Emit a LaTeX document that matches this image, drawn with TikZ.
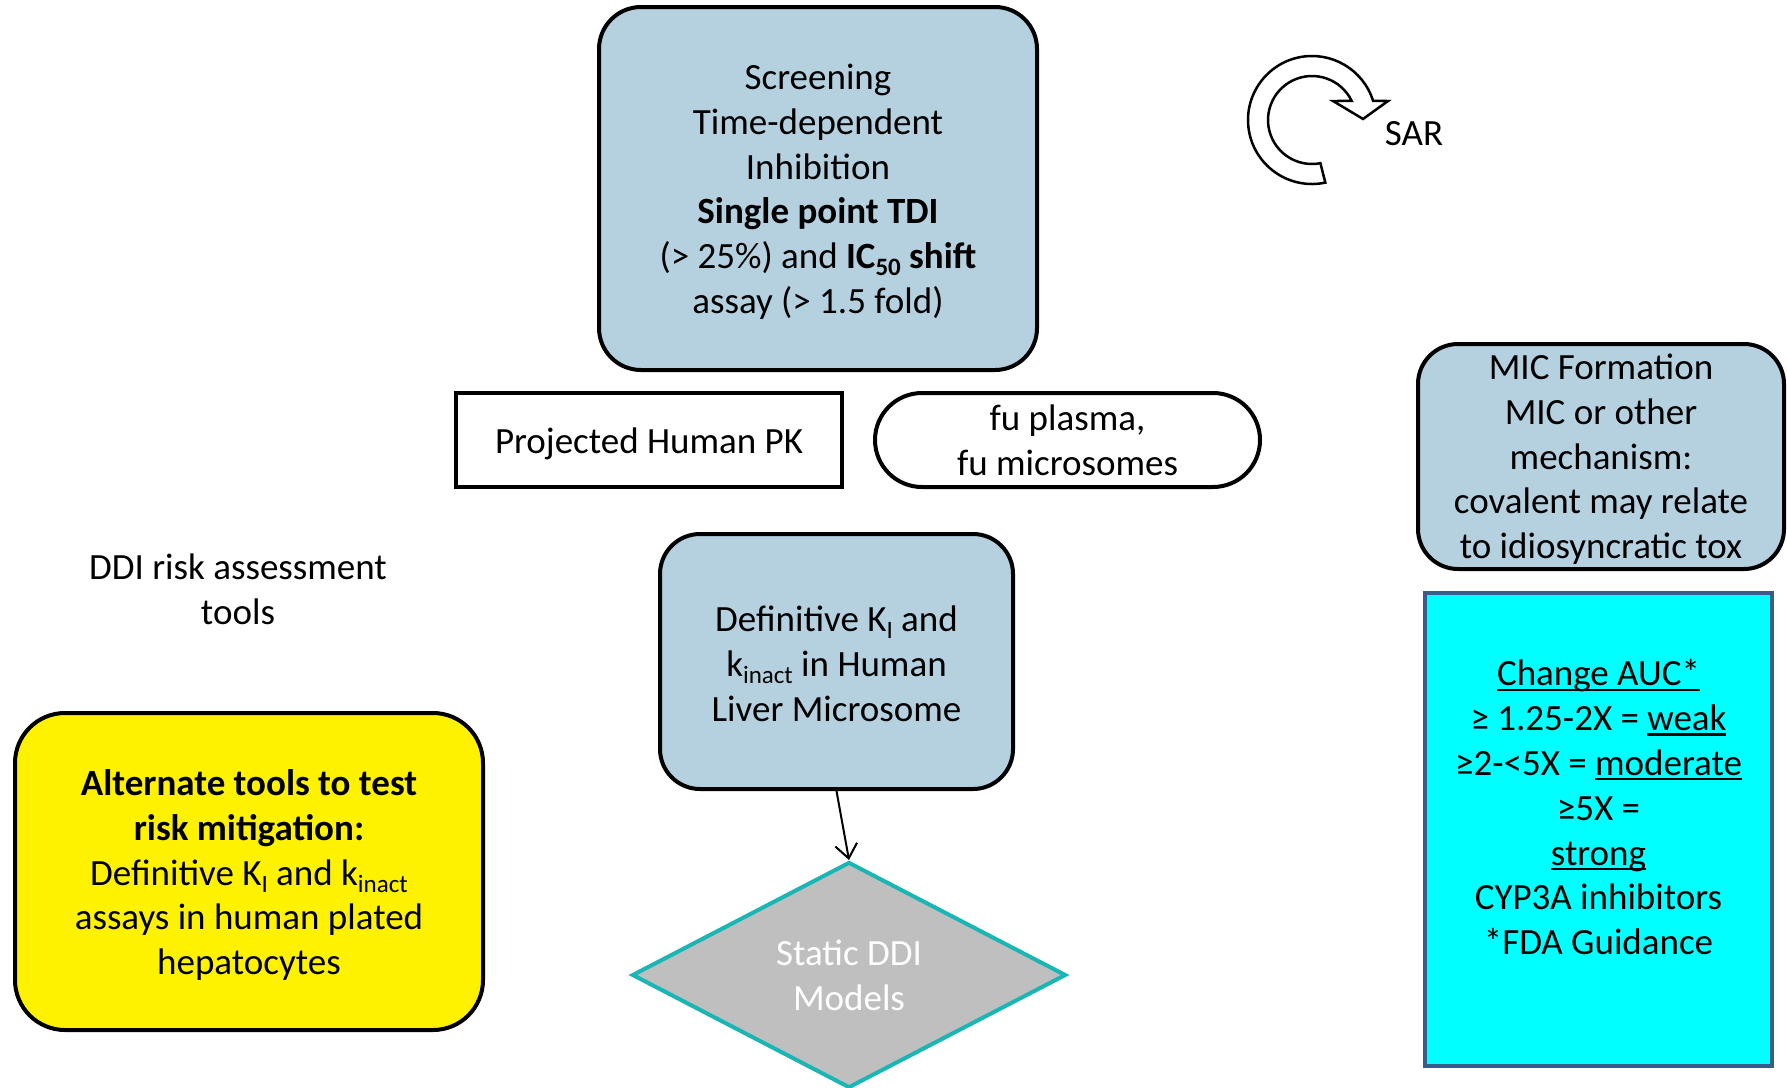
\documentclass[tikz,border=0pt]{standalone}
\usepackage{fontspec}
\setmainfont{Carlito}
\usetikzlibrary{shapes.geometric,arrows.meta,calc}
\definecolor{boxblue}{RGB}{181,209,224}
\definecolor{cyanbox}{RGB}{0,255,255}
\definecolor{cyanedge}{HTML}{385D8A}
\definecolor{diamgray}{RGB}{191,191,191}
\definecolor{diamedge}{RGB}{26,181,181}
\newcommand\subtxt[1]{\raisebox{-7pt}{\fontsize{25}{25}\selectfont #1}}
\newcommand\myul[1]{\setbox0\hbox{#1}\leavevmode\rlap{\rule[-5pt]{\wd0}{2.2pt}}\box0}
\newcommand\lift[1]{\rule{0pt}{#1}}
\tikzset{
  basetxt/.style={font=\fontsize{37}{44.8}\selectfont, align=center, inner sep=0pt, line width=4pt},
  bluebox/.style={basetxt, draw=black, fill=boxblue, rectangle, rounded corners=42pt},
  plainbox/.style={basetxt, draw=black, fill=white, rectangle},
  pillbox/.style={basetxt, draw=black, fill=white, rectangle, rounded corners=47pt},
  yellowbox/.style={basetxt, draw=black, fill=yellow, rectangle, rounded corners=50pt},
  cyanboxst/.style={basetxt, draw=cyanedge, fill=cyanbox, rectangle},
  decision/.style={basetxt, diamond, draw=diamedge, fill=diamgray, text=white},
  label/.style={basetxt},
  conn/.style={line width=2pt, -{Straight Barb[length=14pt,width=22pt]}}
}
\begin{document}
\begin{tikzpicture}[x=1pt,y=-1pt]
\fill[white] (0,0) rectangle (1787,1087);
\useasboundingbox (0,0) rectangle (1787,1087);

\node[bluebox, minimum width=438pt, minimum height=363pt] (tdi) at (818,188.5)
  {\lift{32pt}Screening\\ Time-dependent\\ Inhibition\\ \textbf{Single point TDI}\\ (> 25\%) and \textbf{IC\subtxt{50} shift}\\ assay (> 1.5 fold)};

\node[plainbox, minimum width=386pt, minimum height=94pt] (pk) at (649,440) {\lift{33pt}Projected Human PK};
\node[pillbox, minimum width=385pt, minimum height=94pt] (fu) at (1067.5,440) {fu plasma,\\ fu microsomes};

\node[bluebox, rounded corners=40pt, minimum width=353pt, minimum height=255pt] (def) at (836.5,661.5)
  {\lift{30.5pt}Definitive K\subtxt{I} and\\ k\subtxt{inact} in Human\\ Liver Microsome};

\node[decision, minimum width=434pt, minimum height=226pt] (diam) at (849,975) {Static DDI\\ Models};

\draw[conn] (def.south) -- (diam.north);

\node[label] (ddi) at (238,589) {DDI risk assessment\\ tools};

\node[yellowbox, minimum width=468pt, minimum height=317pt] (alt) at (249,871.5)
  {\lift{33pt}\textbf{Alternate tools to test}\\ \textbf{risk mitigation:}\\ Definitive K\subtxt{I} and k\subtxt{inact}\\ assays in human plated\\ hepatocytes};

\node[bluebox, rounded corners=40pt, minimum width=366pt, minimum height=225pt] (mic) at (1601,456.5)
  {\lift{31pt}MIC Formation\\ MIC or other\\ mechanism:\\ covalent may relate\\ to idiosyncratic tox};

\node[cyanboxst, minimum width=347pt, minimum height=473pt] (auc) at (1598.5,829.5)
  {\myul{Change AUC*}\\ ≥ 1.25-2X = \myul{weak}\\ ≥2-<5X = \myul{moderate}\\ ≥5X =\\ \myul{strong}\\ CYP3A inhibitors\\ *FDA Guidance\\ ~};

\coordinate (sarc) at (1312,120);
\draw[line width=2.5pt, fill=white, line join=miter]
  ($(sarc)+(282:64pt)$) arc[start angle=282, end angle=17.3, radius=64pt]
  -- (1388,101) -- (1363,119) -- (1333,101)
  -- ($(sarc)+(25.6:44pt)$) arc[start angle=25.6, end angle=281, radius=44pt] -- cycle;
\node[label] (sar) at (1414,133.3) {SAR};
\end{tikzpicture}
\end{document}
